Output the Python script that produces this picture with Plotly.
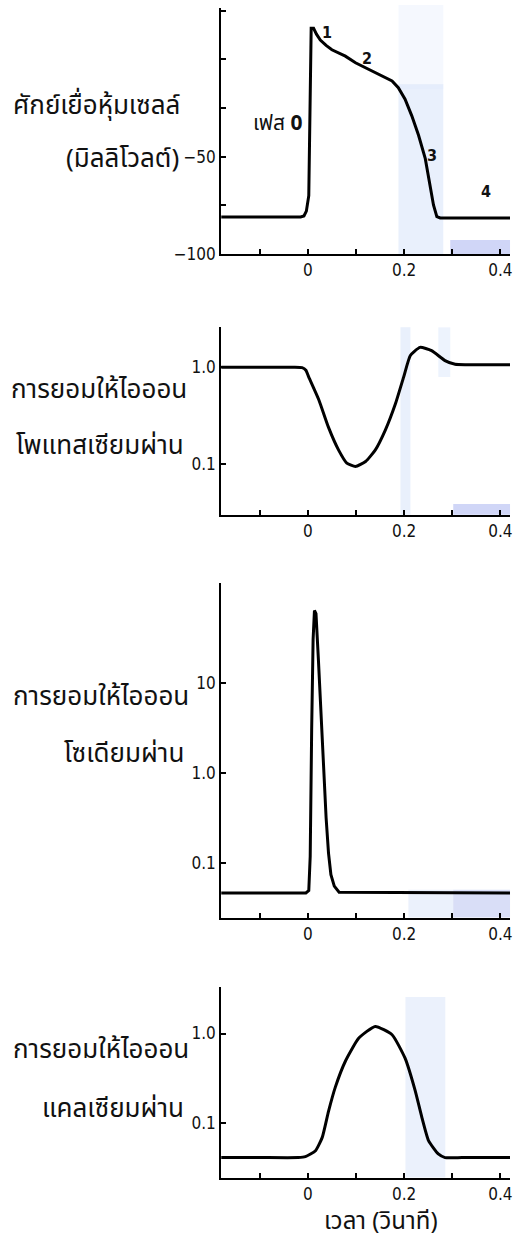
import plotly.graph_objects as go

# ---------------- data ----------------
t_vm = [-0.18, -0.015, -0.008, -0.003, 0.002, 0.004, 0.0056, 0.007, 0.012, 0.018, 0.026,
        0.038, 0.05, 0.064, 0.078, 0.099, 0.126, 0.154, 0.175, 0.188, 0.202, 0.216, 0.23,
        0.244, 0.254, 0.261, 0.268, 0.275, 0.42]
vm = [-81, -81, -80.5, -78, -70, -30, 15, 16, 16, 13, 10,
      7.2, 5, 3.2, 1.7, -1.7, -5, -8.5, -11, -14.5, -20.4, -29, -39,
      -51, -64.6, -74.8, -80.8, -81.5, -81.5]

t_k = [-0.18, -0.1, -0.03, -0.012, -0.004, 0.002, 0.023, 0.043, 0.064, 0.081, 0.099, 0.12,
       0.14, 0.161, 0.182, 0.199, 0.213, 0.233, 0.257, 0.285, 0.306, 0.33, 0.38, 0.42]
g_k = [1.0, 1.0, 1.0, 0.99, 0.93, 0.79, 0.46, 0.24, 0.14, 0.103, 0.095, 0.107,
       0.14, 0.225, 0.42, 0.79, 1.32, 1.6, 1.48, 1.17, 1.07, 1.06, 1.06, 1.06]

t_na = [-0.18, -0.004, 0.002, 0.005, 0.008, 0.011, 0.0138, 0.017, 0.022, 0.027, 0.032, 0.038,
        0.043, 0.048, 0.055, 0.065, 0.42]
g_na = [0.047, 0.047, 0.05, 0.12, 3.0, 30, 63, 58, 18, 4.5, 1.2, 0.32,
        0.13, 0.075, 0.056, 0.048, 0.047]

t_ca = [-0.18, -0.1, -0.02, -0.005, 0.016, 0.03, 0.043, 0.057, 0.078, 0.106, 0.14, 0.175,
        0.202, 0.223, 0.237, 0.251, 0.271, 0.285, 0.32, 0.37, 0.42]
g_ca = [0.041, 0.041, 0.041, 0.042, 0.049, 0.069, 0.135, 0.25, 0.49, 0.89, 1.2, 0.97,
        0.53, 0.23, 0.115, 0.063, 0.045, 0.041, 0.041, 0.041, 0.041]

x_tickvals = [-0.1, 0, 0.1, 0.2, 0.3, 0.4]
x_ticktext = ["", "0", "", "0.2", "", "0.4"]

vm_tickvals = [-100, -75, -50, -25, 0, 25]
vm_ticktext = ["\u2212100", "", "\u221250", "", "", ""]

phase_labels = ["1", "2", "3", "4"]
phase_t = [0.039, 0.122, 0.257, 0.37]
phase_v = [14, 0.5, -49.5, -68]

titles = [
    ["ศักย์เยื่อหุ้มเซลล์", "(มิลลิโวลต์)"],
    ["การยอมให้ไอออน", "โพแทสเซียมผ่าน"],
    ["การยอมให้ไอออน", "โซเดียมผ่าน"],
    ["การยอมให้ไอออน", "แคลเซียมผ่าน"],
]
x_title = "เวลา (วินาที)"

# ---------------- figure ----------------
W, H = 518, 1250
THAI = "Noto Sans Thai, Loma, Garuda, Noto Sans, sans-serif"
NUM = "DejaVu Sans Condensed, Liberation Sans Narrow, DejaVu Sans, sans-serif"

fig = go.Figure()
fig.add_trace(go.Scatter(x=t_vm, y=vm, mode="lines",
                         line=dict(color="black", width=3), xaxis="x", yaxis="y"))
fig.add_trace(go.Scatter(x=t_k, y=g_k, mode="lines",
                         line=dict(color="black", width=3, shape="spline", smoothing=0.5),
                         xaxis="x2", yaxis="y2"))
fig.add_trace(go.Scatter(x=t_na, y=g_na, mode="lines",
                         line=dict(color="black", width=3), xaxis="x3", yaxis="y3"))
fig.add_trace(go.Scatter(x=t_ca, y=g_ca, mode="lines",
                         line=dict(color="black", width=3, shape="spline", smoothing=0.5),
                         xaxis="x4", yaxis="y4"))


def py(px):
    return 1 - px / H


xdom = [222 / W, 512 / W]
ydoms = [[py(256), py(8)], [py(519), py(330)], [py(925), py(588)], [py(1187), py(995)]]

axis_common = dict(showline=True, linecolor="black", linewidth=2, ticks="inside", ticklen=5,
                   tickwidth=1.5, tickcolor="black", showgrid=False, zeroline=False,
                   tickfont=dict(family=NUM, size=17, color="#111"))

layout = dict(width=W, height=H, margin=dict(l=0, r=0, t=0, b=0), showlegend=False,
              plot_bgcolor="rgba(0,0,0,0)", paper_bgcolor="white")
for i in range(4):
    s = "" if i == 0 else str(i + 1)
    layout["xaxis" + s] = dict(domain=xdom, range=[-0.18, 0.42], anchor="y" + s,
                               tickvals=x_tickvals, ticktext=x_ticktext, **axis_common)
layout["yaxis"] = dict(domain=ydoms[0], range=[-100, 26.5], anchor="x",
                       tickvals=vm_tickvals, ticktext=vm_ticktext, **axis_common)
layout["yaxis2"] = dict(domain=ydoms[1], type="log", range=[-1.52, 0.41], anchor="x2",
                        tickvals=[0.1, 1.0], ticktext=["0.1", "1.0"], **axis_common)
layout["yaxis3"] = dict(domain=ydoms[2], type="log", range=[-1.6, 2.1], anchor="x3",
                        tickvals=[0.1, 1.0, 10], ticktext=["0.1", "1.0", "10"], **axis_common)
layout["yaxis4"] = dict(domain=ydoms[3], type="log", range=[-1.61, 0.52], anchor="x4",
                        tickvals=[0.1, 1.0], ticktext=["0.1", "1.0"], **axis_common)
fig.update_layout(**layout)

# faint light-blue scan bands (background decoration)
bands = [
    (400, 445, 5, 90, "rgba(232,240,253,0.45)"),
    (400, 445, 85, 256, "rgba(215,228,250,0.55)"),
    (452, 512, 242, 256, "rgba(170,180,240,0.55)"),
    (402, 412, 330, 519, "rgba(215,228,250,0.55)"),
    (440, 452, 330, 380, "rgba(215,228,250,0.45)"),
    (455, 512, 508, 519, "rgba(170,180,240,0.55)"),
    (410, 455, 897, 925, "rgba(215,228,250,0.5)"),
    (455, 512, 897, 925, "rgba(180,190,240,0.5)"),
    (407, 447, 1005, 1187, "rgba(215,228,250,0.5)"),
]
for x0, x1, y0, y1, c in bands:
    fig.add_shape(type="rect", xref="paper", yref="paper", x0=x0 / W, x1=x1 / W,
                  y0=py(y1), y1=py(y0), fillcolor=c, line_width=0, layer="below")

# y titles
title_pos = [((183, 107), (182, 160)), ((190, 393), (187, 450)),
             ((192, 703), (187, 760)), ((192, 1058), (187, 1118))]
for (l1, l2), ((x1, y1), (x2, y2)) in zip(titles, title_pos):
    for txt, x, y in ((l1, x1, y1), (l2, x2, y2)):
        fig.add_annotation(text=txt, x=x / W, y=py(y), xref="paper", yref="paper",
                           xanchor="right", yanchor="middle", showarrow=False,
                           font=dict(family=THAI, size=26, color="#111"))

# phase labels
for lab, tx, vy in zip(phase_labels, phase_t, phase_v):
    fig.add_annotation(text="<b>" + lab + "</b>", x=tx, y=vy, xref="x", yref="y",
                       showarrow=False, font=dict(family=NUM, size=16, color="#111"))
fig.add_annotation(text="เฟส <b>0</b>", x=-0.005, y=-33, xref="x", yref="y", xanchor="right",
                   yanchor="middle", showarrow=False, font=dict(family=THAI, size=21, color="#111"))

fig.add_annotation(text=x_title, x=382 / W, y=py(1232), xref="paper", yref="paper",
                   xanchor="center", yanchor="middle", showarrow=False,
                   font=dict(family=THAI, size=24, color="#111"))

fig.write_html("out.html")
